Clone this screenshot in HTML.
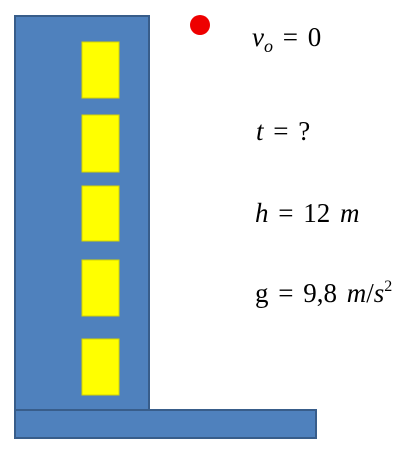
<!DOCTYPE html>
<html><head><meta charset="utf-8"><style>
body{margin:0;background:#fff;width:411px;height:450px;overflow:hidden}
svg{display:block}
text{font-family:"Liberation Serif",serif;font-size:27px;fill:#000;word-spacing:3px}
</style></head><body>
<svg width="411" height="450">
<rect x="15" y="16" width="134" height="395" fill="#4f81bd" stroke="#385d8a" stroke-width="2"/>
<rect x="15" y="410" width="301" height="28" fill="#4f81bd" stroke="#385d8a" stroke-width="2"/>
<g fill="#ffff00" stroke="#d4d400" stroke-width="1">
<rect x="82" y="42" width="37" height="56"/>
<rect x="82" y="115" width="37" height="57"/>
<rect x="82" y="186" width="37" height="55"/>
<rect x="82" y="260" width="37" height="56"/>
<rect x="82" y="339" width="37" height="56"/>
</g>
<circle cx="200" cy="25" r="10" fill="#ee0000"/>
<text x="252" y="46"><tspan font-style="italic">v</tspan><tspan font-style="italic" font-size="18" dy="6">o</tspan><tspan dy="-6"> = 0</tspan></text>
<text x="256" y="140"><tspan font-style="italic">t</tspan> = ?</text>
<text x="255" y="222"><tspan font-style="italic">h</tspan> = 12 <tspan font-style="italic">m</tspan></text>
<text x="255" y="302">g = 9,8 <tspan font-style="italic">m</tspan>/<tspan font-style="italic">s</tspan><tspan font-size="16" dy="-11">2</tspan></text>
</svg>
</body></html>
